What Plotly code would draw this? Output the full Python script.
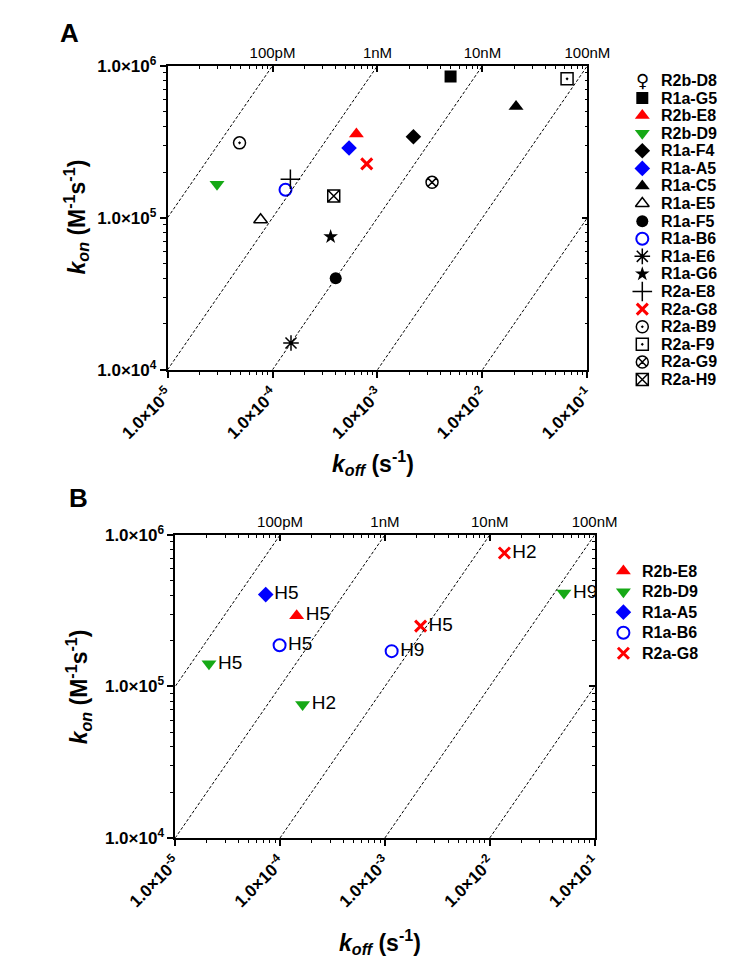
import plotly.graph_objects as go

W, H = 740, 976
FONT = "Arial, Liberation Sans, Helvetica, sans-serif"

# ---------------- Panel A data ----------------
a_names = ["R2b-D8", "R1a-G5", "R2b-E8", "R2b-D9", "R1a-F4", "R1a-A5", "R1a-C5",
           "R1a-E5", "R1a-F5", "R1a-B6", "R1a-E6", "R1a-G6", "R2a-E8", "R2a-G8",
           "R2a-B9", "R2a-F9", "R2a-G9", "R2a-H9"]
a_koff = [None, 4.97e-3, 6.3e-4, 2.96e-5, 2.2e-3, 5.36e-4, 2.09e-2,
          7.7e-5, 4.0e-4, 1.33e-4, 1.5e-4, 3.58e-4, 1.48e-4, 7.9e-4,
          4.85e-5, 6.4e-2, 3.31e-3, 3.83e-4]
a_kon = [None, 8.5e5, 3.55e5, 1.66e5, 3.41e5, 2.88e5, 5.4e5,
         9.7e4, 4.0e4, 1.53e5, 1.5e4, 7.5e4, 1.79e5, 2.26e5,
         3.11e5, 8.2e5, 1.71e5, 1.39e5]

# ---------------- Panel B data ----------------
b_names = ["R2b-E8", "R2b-D9", "R1a-A5", "R1a-B6", "R2a-G8"]
b_clone = ["R2b-E8", "R2b-D9", "R2b-D9", "R2b-D9", "R1a-A5", "R1a-B6", "R1a-B6", "R2a-G8", "R2a-G8"]
b_koff = [1.44e-4, 2.1e-5, 1.64e-4, 5.1e-2, 7.3e-5, 9.9e-5, 1.16e-3, 2.19e-3, 1.38e-2]
b_kon = [2.93e5, 1.41e5, 7.6e4, 4.14e5, 4.04e5, 1.87e5, 1.71e5, 2.5e5, 7.6e5]
b_epitope = ["H5", "H5", "H2", "H9", "H5", "H5", "H9", "H5", "H2"]

# iso-affinity lines (KD = koff / kon) and their labels
kd_values = [1e-10, 1e-9, 1e-8, 1e-7, 1e-6]
kd_top_ticks = [1e-4, 1e-3, 1e-2, 1e-1]
kd_top_text = ["100pM", "1nM", "10nM", "100nM"]
kon_span = [1e4, 1e6]

x_tick_vals = [1e-5, 1e-4, 1e-3, 1e-2, 1e-1]
x_tick_text = ["<b>1.0×10<sup>-5</sup></b>", "<b>1.0×10<sup>-4</sup></b>", "<b>1.0×10<sup>-3</sup></b>",
               "<b>1.0×10<sup>-2</sup></b>", "<b>1.0×10<sup>-1</sup></b>"]
y_tick_vals = [1e4, 1e5, 1e6]
y_tick_text = ["<b>1.0×10<sup>4</sup></b>", "<b>1.0×10<sup>5</sup></b>", "<b>1.0×10<sup>6</sup></b>"]

RED, BLUE, GREEN, BLACK = "#ff0000", "#0000ff", "#16a916", "#000000"
STYLE = {
    "R1a-G5": dict(symbol="square", color=BLACK, size=12, lw=0),
    "R2b-E8": dict(symbol="triangle-up", color=RED, size=13, lw=0),
    "R2b-D9": dict(symbol="triangle-down", color=GREEN, size=13, lw=0),
    "R1a-F4": dict(symbol="diamond", color=BLACK, size=12, lw=0),
    "R1a-A5": dict(symbol="diamond", color=BLUE, size=12, lw=0),
    "R1a-C5": dict(symbol="triangle-up", color=BLACK, size=13, lw=0),
    "R1a-E5": dict(symbol="triangle-up-open", color=BLACK, size=12, lw=1.5),
    "R1a-F5": dict(symbol="circle", color=BLACK, size=12, lw=0),
    "R1a-B6": dict(symbol="circle-open", color=BLUE, size=12, lw=2),
    "R1a-E6": dict(symbol="asterisk-open", color=BLACK, size=13, lw=1.5),
    "R1a-G6": dict(symbol="star", color=BLACK, size=11, lw=0),
    "R2a-E8": dict(symbol="cross-thin-open", color=BLACK, size=14, lw=1.5),
    "R2a-G8": dict(symbol="x-thin-open", color=RED, size=11, lw=3),
    "R2a-B9": dict(symbol="circle-open-dot", color=BLACK, size=12, lw=1.5),
    "R2a-F9": dict(symbol="square-open-dot", color=BLACK, size=12, lw=1.5),
    "R2a-G9": dict(symbol="circle-x-open", color=BLACK, size=12, lw=1.5),
    "R2a-H9": dict(symbol="square-x-open", color=BLACK, size=12, lw=1.5),
}


def mk(st):
    return dict(symbol=st["symbol"], color=st["color"], size=st["size"], opacity=1,
                line=dict(color=st["color"], width=st["lw"]))


def px(x):
    return x / W


def py(y):
    return 1 - y / H


fig = go.Figure()

# ---------- iso-affinity dashed lines (drawn on the top/right overlay axes) ----------
for xa, ya in [("x2", "y2"), ("x4", "y4")]:
    for kd in kd_values:
        fig.add_trace(go.Scatter(x=[kd * k for k in kon_span], y=kon_span, mode="lines",
                                 line=dict(color="black", width=1, dash="3px,2px"),
                                 xaxis=xa, yaxis=ya, showlegend=False, hoverinfo="skip"))

# ---------- Panel A points ----------
for name, ko, kn in zip(a_names, a_koff, a_kon):
    if ko is None:
        continue
    fig.add_trace(go.Scatter(x=[ko], y=[kn], mode="markers", marker=mk(STYLE[name]),
                             xaxis="x", yaxis="y", showlegend=False, name=name))

# ---------- Panel B points ----------
for name in b_names:
    idx = [i for i, c in enumerate(b_clone) if c == name]
    fig.add_trace(go.Scatter(x=[b_koff[i] for i in idx], y=[b_kon[i] for i in idx],
                             text=[b_epitope[i] for i in idx], mode="markers+text",
                             textposition="middle right",
                             textfont=dict(size=19, color="black", family=FONT),
                             marker=mk(STYLE[name]), xaxis="x3", yaxis="y3",
                             showlegend=False, name=name, cliponaxis=False))


# ---------- manual legends (aux axis in pixel units) ----------
def legend_markers(names, xs, ys):
    return go.Scatter(
        x=xs, y=ys, mode="markers",
        marker=dict(symbol=[STYLE[n]["symbol"] for n in names],
                    color=[STYLE[n]["color"] for n in names],
                    size=[STYLE[n]["size"] for n in names], opacity=1,
                    line=dict(color=[STYLE[n]["color"] for n in names],
                              width=[STYLE[n]["lw"] for n in names])),
        xaxis="x5", yaxis="y5", showlegend=False, hoverinfo="skip", cliponaxis=False)


annotations = []
legA_rows = [70 + 18 * i for i in range(len(a_names))]
legA_names = [n for n in a_names if n in STYLE]
legA_y = [legA_rows[i] for i, n in enumerate(a_names) if n in STYLE]
fig.add_trace(legend_markers(legA_names, [657] * len(legA_names), legA_y))
for n, yy in zip(a_names, legA_rows):
    annotations.append(dict(x=675, y=yy, xref="x5", yref="y5", text=f"<b>{n}</b>", showarrow=False,
                            xanchor="left", yanchor="middle", font=dict(size=16, family=FONT, color="black")))
annotations.append(dict(x=657, y=legA_rows[0], xref="x5", yref="y5", text="♀", showarrow=False,
                        xanchor="center", yanchor="middle",
                        font=dict(size=18, family="DejaVu Sans", color="black")))

legB_rows = [572 + 21 * i for i in range(len(b_names))]
fig.add_trace(legend_markers(b_names, [636] * len(b_names), legB_rows))
for n, yy in zip(b_names, legB_rows):
    annotations.append(dict(x=654, y=yy, xref="x5", yref="y5", text=f"<b>{n}</b>", showarrow=False,
                            xanchor="left", yanchor="middle", font=dict(size=16, family=FONT, color="black")))

# ---------- titles / panel letters ----------
ytitle = "<b><i>k</i><sub><i>on</i></sub> (M<sup>-1</sup>s<sup>-1</sup>)</b>"
xtitle = "<b><i>k</i><sub><i>off</i></sub> (s<sup>-1</sup>)</b>"
for (xx, yy, t, ang) in [(28, 210, ytitle, -90), (31, 690, ytitle, -90),
                         (358, 461, xtitle, 0), (366, 951, xtitle, 0)]:
    annotations.append(dict(x=px(xx), y=py(yy), xref="paper", yref="paper", text=t, textangle=ang,
                            showarrow=False, xanchor="center", yanchor="middle",
                            font=dict(size=23, family=FONT, color="black")))
for (xx, yy, t) in [(21, 21, "A"), (30, 497, "B")]:
    annotations.append(dict(x=px(xx), y=py(yy), xref="paper", yref="paper", text=f"<b>{t}</b>",
                            showarrow=False, xanchor="center", yanchor="middle",
                            font=dict(size=26, family=FONT, color="black")))

# ---------- axes ----------
minor_x = [m * 10 ** e for e in range(-5, -1) for m in range(2, 10)]
minor_y = [m * 10 ** e for e in range(4, 6) for m in range(2, 10)]


def common(minor_vals, direction):
    return dict(ticklen=6, tickwidth=1.5, tickcolor="black", ticks=direction,
                minor=dict(tickmode="array", tickvals=minor_vals, ticks=direction, ticklen=3,
                           tickwidth=1, tickcolor="black", showgrid=False),
                showline=True, linecolor="black", linewidth=1.5, showgrid=False, zeroline=False,
                fixedrange=True)


def xbottom(domain, anchor):
    return dict(type="log", range=[-5, -1], domain=domain, anchor=anchor,
                tickmode="array", tickvals=x_tick_vals, ticktext=x_tick_text, tickangle=-45,
                tickfont=dict(size=17, family=FONT, color="black"), **common(minor_x, "outside"))


def xtop(over, anchor):
    return dict(type="log", range=[-5, -1], overlaying=over, anchor=anchor, side="top",
                tickmode="array", tickvals=kd_top_ticks, ticktext=kd_top_text,
                tickfont=dict(size=15, family=FONT, color="black"), **common(minor_x, "inside"))


def yleft(domain, anchor):
    return dict(type="log", range=[4, 6], domain=domain, anchor=anchor,
                tickmode="array", tickvals=y_tick_vals, ticktext=y_tick_text,
                tickfont=dict(size=17, family=FONT, color="black"), **common(minor_y, "outside"))


def yright(over, anchor):
    return dict(type="log", range=[4, 6], overlaying=over, anchor=anchor, side="right",
                tickmode="array", tickvals=y_tick_vals, showticklabels=False,
                **common(minor_y, "inside"))


A_x = [px(129.5), px(596)]
A_y = [py(366), py(55)]
B_x = [px(138), px(604)]
B_y = [py(845), py(535)]

fig.update_layout(
    width=W, height=H, margin=dict(l=0, r=0, t=0, b=0),
    paper_bgcolor="white", plot_bgcolor="rgba(0,0,0,0)",
    font=dict(family=FONT, color="black"),
    showlegend=False,
    xaxis=xbottom(A_x, "y"), yaxis=yleft(A_y, "x"),
    xaxis2=xtop("x", "y2"), yaxis2=yright("y", "x2"),
    xaxis3=xbottom(B_x, "y3"), yaxis3=yleft(B_y, "x3"),
    xaxis4=xtop("x3", "y4"), yaxis4=yright("y3", "x4"),
    xaxis5=dict(domain=[0, 1], range=[0, W], visible=False, anchor="y5", fixedrange=True),
    yaxis5=dict(domain=[0, 1], range=[H, 0], visible=False, anchor="x5", fixedrange=True),
    annotations=annotations,
)

fig.write_html("out.html", config={"displayModeBar": False},
               post_script="document.body.style.margin='0px';document.body.style.overflow='hidden';")
